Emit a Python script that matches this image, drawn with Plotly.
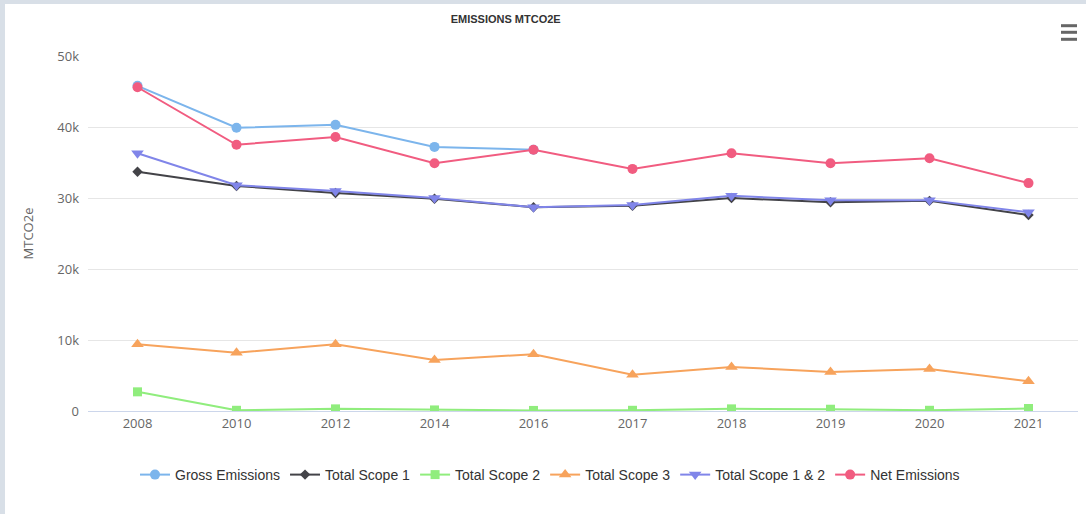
import plotly.graph_objects as go

years = ["2008", "2010", "2012", "2014", "2016", "2017", "2018", "2019", "2020", "2021"]
gross = [45800, 39900, 40300, 37200, 36800, None, None, None, None, None]
scope1 = [33700, 31700, 30700, 29900, 28700, 28900, 30000, 29400, 29600, 27600]
scope2 = [2700, 100, 300, 150, 80, 100, 300, 250, 100, 350]
scope3 = [9400, 8200, 9400, 7200, 8000, 5100, 6200, 5500, 5900, 4200]
scope12 = [36300, 31800, 31000, 30000, 28700, 29000, 30300, 29700, 29700, 28000]
net = [45600, 37500, 38600, 34900, 36800, 34100, 36300, 34900, 35600, 32100]

ytick_vals = [0, 10000, 20000, 30000, 40000, 50000]
ytick_text = ["0", "10k", "20k", "30k", "40k", "50k"]

series = [
    ("Gross Emissions", gross, "#7cb5ec", "circle", 10),
    ("Total Scope 1", scope1, "#434348", "diamond", 8),
    ("Total Scope 2", scope2, "#90ed7d", "square", 9),
    ("Total Scope 3", scope3, "#f7a35c", "triangle-up", 11),
    ("Total Scope 1 & 2", scope12, "#8085e9", "triangle-down", 11),
    ("Net Emissions", net, "#f15c80", "circle", 10),
]

fig = go.Figure()
for name, vals, color, sym, size in series:
    fig.add_trace(go.Scatter(
        x=years, y=vals, name=name, mode="lines+markers",
        line=dict(color=color, width=2),
        marker=dict(color=color, symbol=sym, size=size, line=dict(width=0)),
        connectgaps=False,
    ))

L, R, T, B = 88, 8, 56, 103
W, H = 1086, 514
pw, ph = W - L - R, H - T - B

def px(x):
    return (x - L) / pw

def py(y):
    return (H - B - y) / ph

shapes = [
    dict(type="rect", xref="paper", yref="paper", x0=px(5), x1=px(W + 20),
         y0=py(H + 20), y1=py(4), fillcolor="white", line=dict(width=0), layer="below"),
]
for yy in [25.7, 32.3, 39.3]:
    shapes.append(dict(type="line", xref="paper", yref="paper", x0=px(1061), x1=px(1077),
                       y0=py(yy), y1=py(yy), line=dict(color="#666666", width=3)))

fig.update_layout(
    width=W, height=H,
    margin=dict(l=L, r=R, t=T, b=B),
    paper_bgcolor="#d8dfe7",
    plot_bgcolor="white",
    shapes=shapes,
    title=dict(text="<b>EMISSIONS MTCO2E</b>", x=px(549), xanchor="center", y=1 - 19 / H, yanchor="middle",
               font=dict(family="Liberation Sans Narrow, Arial Narrow, sans-serif", size=11, color="#333333")),
    showlegend=True,
    legend=dict(orientation="h", x=px(550), xanchor="center",
                y=py(475), yanchor="middle",
                font=dict(family="Liberation Sans Narrow, Arial Narrow, sans-serif", size=14, color="#333333"),
                itemwidth=30, bgcolor="rgba(0,0,0,0)"),
    xaxis=dict(type="category", showgrid=False, showline=True, linecolor="#ccd6eb", linewidth=1,
               ticks="", tickfont=dict(family="Open Sans, sans-serif", size=13, color="#666666"),
               range=[-0.5, len(years) - 0.5], fixedrange=True),
    yaxis=dict(range=[0, 50000], tickvals=ytick_vals, ticktext=ytick_text, showgrid=True,
               gridcolor="#e6e6e6", gridwidth=1, zeroline=False, showline=False,
               tickfont=dict(family="Open Sans, sans-serif", size=13, color="#666666"),
               title=dict(text="MTCO2e", font=dict(family="Open Sans, sans-serif", size=13, color="#666666"),
                          standoff=20),
               ticklabelstandoff=8),
)

fig.write_html("out.html",
               config={"displayModeBar": False},
               post_script="document.body.style.margin='0';document.body.style.padding='0';"
                           "document.documentElement.style.overflow='hidden';")
